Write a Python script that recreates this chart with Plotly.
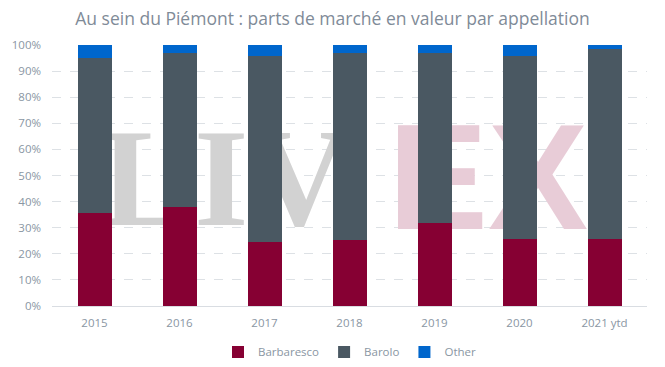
import plotly.graph_objects as go

years = ["2015", "2016", "2017", "2018", "2019", "2020", "2021 ytd"]
barbaresco = [35.6, 37.9, 24.6, 25.3, 31.9, 25.7, 25.7]
barolo = [59.4, 58.9, 71.3, 71.5, 64.9, 70.2, 72.8]
other = [5.0, 3.2, 4.1, 3.2, 3.2, 4.1, 1.5]

title_text = "Au sein du Piémont : parts de marché en valeur par appellation"
wm_words = ["LIV", "EX"]
wm_x = [173, 436]
wm_y = [116.5, 115]
wm_sizes = [140, 150]
wm_colors = ["#D2D2D2", "#E8CCD7"]
wm_fonts = ["Liberation Serif", "Liberation Sans"]

TXT = "#8A96A3"
FONT = "Open Sans"

fig = go.Figure()

# watermark on the base axes (drawn beneath the overlaid bar subplot)
for w, xx, yy, s, c, f in zip(wm_words, wm_x, wm_y, wm_sizes, wm_colors, wm_fonts):
    fig.add_trace(go.Scatter(
        x=[xx], y=[yy], mode="text", text=[f"<b>{w}</b>"],
        textfont=dict(family=f, size=s, color=c),
        textposition="middle center", hoverinfo="skip", showlegend=False,
        cliponaxis=False, xaxis="x", yaxis="y"))

for name, vals, col in [("Barbaresco", barbaresco, "#860033"),
                        ("Barolo", barolo, "#4A5862"),
                        ("Other", other, "#0066CC")]:
    fig.add_trace(go.Bar(x=years, y=vals, name=name, marker=dict(color=col, line=dict(width=0)),
                         xaxis="x2", yaxis="y2"))

fig.update_layout(
    width=665, height=367,
    margin=dict(l=52, r=18, t=45, b=61, autoexpand=False),
    paper_bgcolor="white", plot_bgcolor="rgba(0,0,0,0)",
    barmode="stack", bargap=0.6,
    font=dict(family=FONT, color=TXT, size=12),
    title=dict(text=title_text, x=0.5, xanchor="center", y=0.949, yanchor="middle",
               font=dict(family=FONT, size=17.5, color="#7F8B98")),
    xaxis=dict(range=[0, 595], visible=False, fixedrange=True),
    yaxis=dict(range=[0, 261], visible=False, fixedrange=True),
    xaxis2=dict(overlaying="x", showgrid=False, linecolor="#D9DDE2", linewidth=1,
                ticks="", ticklabelstandoff=6, tickfont=dict(size=11.5, color=TXT), anchor="y2"),
    yaxis2=dict(overlaying="y", range=[0, 100], dtick=10, ticksuffix="%",
                showgrid=True, gridcolor="#DDE1E5", griddash="dash", gridwidth=1,
                zeroline=False, showline=False, ticks="", ticklabelstandoff=10,
                tickfont=dict(size=11.5, color=TXT), anchor="x2"),
    legend=dict(orientation="h", x=0.5, xanchor="center", yref="container", y=0.041,
                yanchor="middle", itemwidth=30,
                font=dict(size=11.5, color=TXT), traceorder="normal"),
)

fig.write_html("out.html", config={"displayModeBar": False},
               post_script="document.body.style.margin='0';")
